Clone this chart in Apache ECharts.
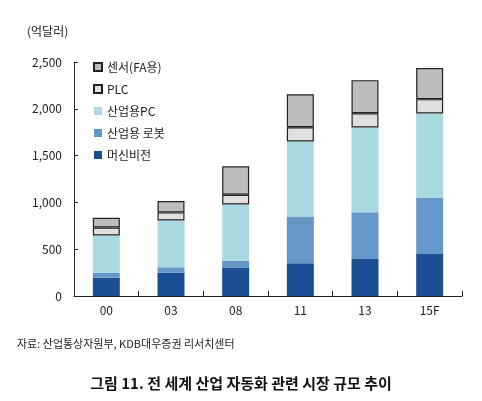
<!DOCTYPE html>
<html><head><meta charset="utf-8">
<script src="https://cdn.jsdelivr.net/npm/echarts@6/dist/echarts.min.js"></script>
<style>body{margin:0;background:#fff}#c{width:482px;height:401px}</style>
</head><body><div id="c"></div>
<script>
var categories = ['00','03','08','11','13','15F'];
var machineVision = [196,250,300,350,396,450];
var robot = [50,57,78,500,500,600];
var industrialPC = [400,500,600,800,904,900];
var plc = [86,86,104,153,153,153];
var sensor = [104,121,303,353,353,332];
var yTicks = ['0','500','1,000','1,500','2,000','2,500'];

var chart = echarts.init(document.getElementById('c'));
var font = 'Noto Sans CJK KR';
function s(name, data, color, border) {
  return {name:name, type:'bar', stack:'a', data:data, barWidth:27,
    itemStyle:{color:color, borderColor: border ? '#222' : color, borderWidth: border ? 1.2 : 0}};
}
chart.setOption({
  textStyle:{fontFamily:font},
  title:[
    {text:'(억달러)', left:22, top:20, textStyle:{fontSize:12, fontWeight:'normal', color:'#222'}},
    {text:'자료: 산업통상자원부, KDB대우증권 리서치센터', left:12, top:333, textStyle:{fontSize:11, fontWeight:'normal', color:'#222'}},
    {text:'그림 11. 전 세계 산업 자동화 관련 시장 규모 추이', left:'center', top:371, textStyle:{fontSize:15, fontWeight:'bold', color:'#111'}}
  ],
  legend:{left:88, top:56, orient:'vertical', itemGap:10, itemWidth:8, itemHeight:8, icon:'rect',
    textStyle:{fontSize:12, color:'#222'},
    data:['센서(FA용)','PLC','산업용PC','산업용 로봇','머신비전']},
  grid:{left:74, right:20, top:62, bottom:105},
  xAxis:{type:'category', data:categories,
    axisLine:{lineStyle:{color:'#222'}}, axisTick:{show:true, length:5, inside:true, lineStyle:{color:'#222'}},
    axisLabel:{fontSize:12, color:'#222', margin:8}},
  yAxis:{type:'value', min:0, max:2500, interval:500,
    axisLine:{show:true, lineStyle:{color:'#222'}}, axisTick:{show:true, inside:true, length:4, lineStyle:{color:'#222'}},
    splitLine:{show:false},
    axisLabel:{fontSize:12, color:'#222', margin:12, formatter:function(v){return yTicks[v/500];}}},
  series:[
    s('머신비전', machineVision, '#1a4f94', false),
    s('산업용 로봇', robot, '#6597c8', false),
    s('산업용PC', industrialPC, '#a9dadf', false),
    s('PLC', plc, '#e0e0e0', true),
    s('센서(FA용)', sensor, '#bdbdbd', true)
  ]
});
</script></body></html>
